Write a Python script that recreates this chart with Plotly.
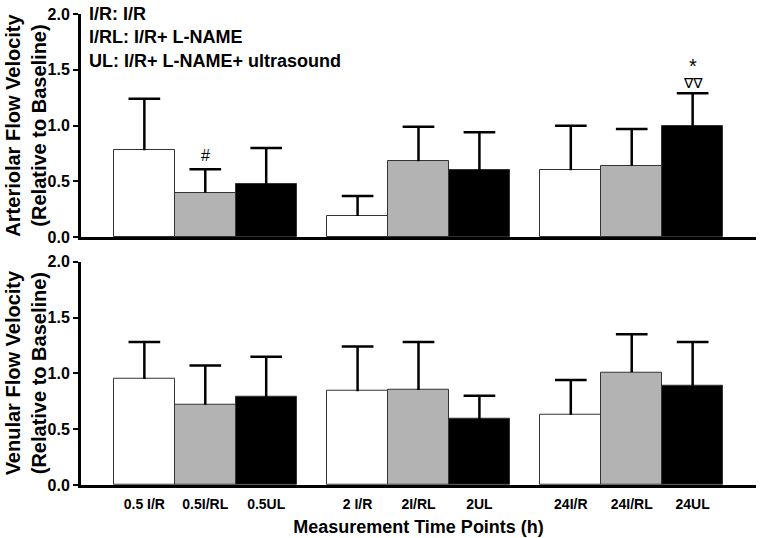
import plotly.graph_objects as go
from plotly.subplots import make_subplots

# --- DATA ---
categories = ['0.5 I/R', '0.5I/RL', '0.5UL', '2 I/R', '2I/RL', '2UL', '24I/R', '24I/RL', '24UL']
arteriolar_mean = [0.78, 0.40, 0.48, 0.19, 0.68, 0.60, 0.60, 0.64, 1.00]
arteriolar_sem = [0.46, 0.21, 0.32, 0.18, 0.31, 0.34, 0.40, 0.33, 0.29]
venular_mean = [0.95, 0.72, 0.79, 0.84, 0.85, 0.59, 0.63, 1.01, 0.89]
venular_sem = [0.33, 0.35, 0.36, 0.40, 0.43, 0.21, 0.31, 0.34, 0.39]
group_labels = ['I/R: I/R', 'I/RL: I/R+ L-NAME', 'UL: I/R+ L-NAME+ ultrasound']
y_ticks = [0.0, 0.5, 1.0, 1.5, 2.0]

bar_fills = ['#ffffff', '#b3b3b3', '#000000']
font_name = 'Liberation Sans, Arial, sans-serif'

# bars sit in groups of three, half a bar apart
xpos = [(i // 3) * 3.5 + (i % 3) for i in range(len(categories))]
cap = 0.26

fig = make_subplots(rows=2, cols=1, shared_xaxes=False, vertical_spacing=0.052)


def add_panel(means, errs, row):
    for j in range(3):
        idx = [i for i in range(len(categories)) if i % 3 == j]
        fig.add_trace(go.Bar(
            x=[xpos[i] for i in idx], y=[means[i] for i in idx], width=1.0,
            marker=dict(color=bar_fills[j], line=dict(color='#333333', width=1)),
            showlegend=False, hoverinfo='skip'), row=row, col=1)
    # upper error bars only: stem + cap
    ex, ey = [], []
    for i, (m, e) in enumerate(zip(means, errs)):
        ex += [xpos[i], xpos[i], None, xpos[i] - cap, xpos[i] + cap, None]
        ey += [m, m + e, None, m + e, m + e, None]
    fig.add_trace(go.Scatter(x=ex, y=ey, mode='lines', line=dict(color='black', width=2.5),
                             showlegend=False, hoverinfo='skip'), row=row, col=1)


add_panel(arteriolar_mean, arteriolar_sem, 1)
add_panel(venular_mean, venular_sem, 2)

for r in (1, 2):
    fig.update_xaxes(range=[-1.04, 10.04], showline=True, linewidth=3, linecolor='black',
                     showgrid=False, zeroline=False, ticks='', automargin=False, row=r, col=1)
    fig.update_yaxes(range=[0, 2], tickvals=y_ticks, ticktext=[f'<b>{v:.1f}</b>' for v in y_ticks],
                     showline=True, linewidth=3, linecolor='black', showgrid=False, zeroline=False,
                     ticks='outside', ticklen=5, tickwidth=2, tickcolor='black', automargin=False,
                     tickfont=dict(family=font_name, size=16, color='black'), row=r, col=1)

fig.update_xaxes(showticklabels=False, row=1, col=1)
fig.update_xaxes(tickvals=xpos, ticktext=[f'<b>{c}</b>' for c in categories],
                 tickfont=dict(family=font_name, size=14, color='black'), ticklabelstandoff=4,
                 title=dict(text='<b>Measurement Time Points (h)</b>',
                            font=dict(family=font_name, size=18, color='black'), standoff=10),
                 row=2, col=1)

# y titles as two-line rotated annotations
for yref, title in (('y domain', 'Arteriolar Flow Velocity'), ('y2 domain', 'Venular Flow Velocity')):
    fig.add_annotation(text=f'<b>{title}<br>(Relative to Baseline)</b>', textangle=-90,
                       xref='paper', x=0, xanchor='center', xshift=-55,
                       yref=yref, y=0.5, yanchor='middle', showarrow=False,
                       font=dict(family=font_name, size=20, color='black'))

# group key, top left
fig.add_annotation(text='<br>'.join(f'<b>{g}</b>' for g in group_labels), align='left',
                   xref='paper', x=0, xanchor='left', xshift=6,
                   yref='paper', y=1, yanchor='top', yshift=12, showarrow=False,
                   font=dict(family=font_name, size=18, color='black'))

# significance marks
fig.add_annotation(text='#', x=xpos[1], y=arteriolar_mean[1] + arteriolar_sem[1], yanchor='bottom',
                   yshift=3, showarrow=False, xref='x', yref='y',
                   font=dict(family=font_name, size=16, color='black'))
fig.add_annotation(text='∇∇', x=xpos[8], y=arteriolar_mean[8] + arteriolar_sem[8], yanchor='bottom',
                   yshift=0, showarrow=False, xref='x', yref='y',
                   font=dict(family='DejaVu Sans', size=14, color='black'))
fig.add_annotation(text='*', x=xpos[8], y=arteriolar_mean[8] + arteriolar_sem[8], yanchor='bottom',
                   yshift=14, showarrow=False, xref='x', yref='y',
                   font=dict(family=font_name, size=20, color='black'))

fig.update_layout(width=760, height=538, margin=dict(l=81, r=4, t=14, b=53),
                  plot_bgcolor='white', paper_bgcolor='white', bargap=0)

# drop the default page margin so the figure fills the window
fig.write_html('out.html', config={'displayModeBar': False},
               post_script="document.body.style.margin='0';")
